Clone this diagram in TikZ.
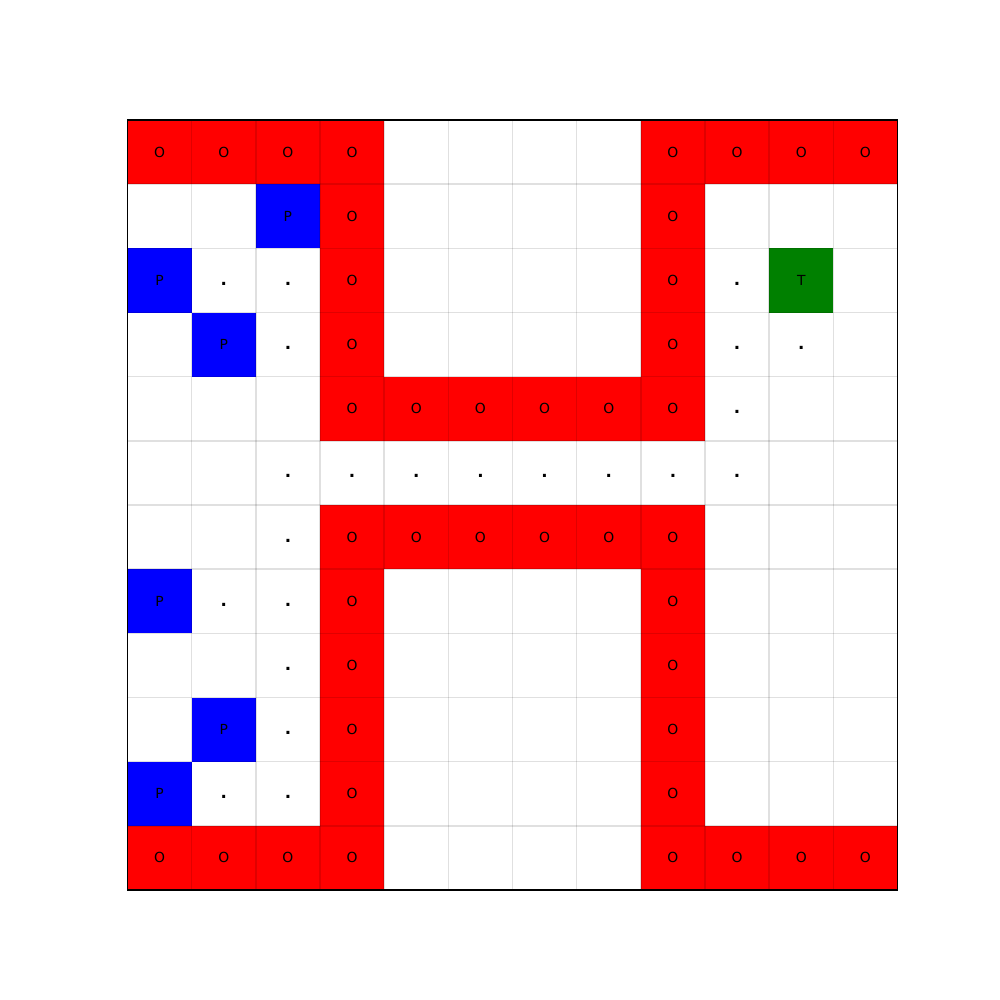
\documentclass[tikz,border=0pt]{standalone}
\usepackage{fontspec}
\setmainfont{DejaVu Sans}
\begin{document}
\begin{tikzpicture}[x=0.72pt,y=-0.72pt,
  cellbase/.style={rectangle,inner sep=0pt,minimum size=46.2pt,text height=7.2pt,text depth=0pt,font=\fontsize{10}{12}\selectfont},
  wallcell/.style={cellbase,fill={rgb,255:red,255;green,0;blue,0}},
  pcell/.style={cellbase,fill={rgb,255:red,0;green,0;blue,255}},
  tcell/.style={cellbase,fill={rgb,255:red,0;green,128;blue,0}},
  dotcell/.style={cellbase,font=\fontsize{12}{14}\selectfont\bfseries},
  gridline/.style={black,opacity=0.12,line width=1pt},
  frame/.style={black,line width=0.8pt}]
\useasboundingbox (0,0) rectangle (1000,1000);
\def\cs{64.1667}
% walls
\foreach \r/\c in {0/0,0/1,0/2,0/3,0/8,0/9,0/10,0/11,
  1/3,1/8,2/3,2/8,3/3,3/8,
  4/3,4/4,4/5,4/6,4/7,4/8,
  6/3,6/4,6/5,6/6,6/7,6/8,
  7/3,7/8,8/3,8/8,9/3,9/8,10/3,10/8,
  11/0,11/1,11/2,11/3,11/8,11/9,11/10,11/11}
  \node[wallcell] (w\r-\c) at ({127.5+(\c+0.5)*\cs},{120+(\r+0.5)*\cs}) {O};
% P cells
\foreach \r/\c in {1/2,2/0,3/1,7/0,9/1,10/0}
  \node[pcell] (p\r-\c) at ({127.5+(\c+0.5)*\cs},{120+(\r+0.5)*\cs}) {P};
% target
\node[tcell] (t2-10) at ({127.5+(10+0.5)*\cs},{120+(2+0.5)*\cs}) {T};
% path dots
\foreach \r/\c in {2/1,2/2,2/9,3/2,3/9,3/10,4/9,
  5/2,5/3,5/4,5/5,5/6,5/7,5/8,5/9,
  6/2,7/1,7/2,8/2,9/2,10/1,10/2}
  \node[dotcell] (d\r-\c) at ({127.5+(\c+0.5)*\cs},{120+(\r+0.5)*\cs}) {.};
% grid
\foreach \i in {1,...,11} {
  \draw[gridline] ({127.5+\i*\cs},120) -- ({127.5+\i*\cs},890);
  \draw[gridline] (127.5,{120+\i*\cs}) -- (897.5,{120+\i*\cs});
}
\draw[frame] (127.5,120) rectangle (897.5,890);
\end{tikzpicture}
\end{document}
